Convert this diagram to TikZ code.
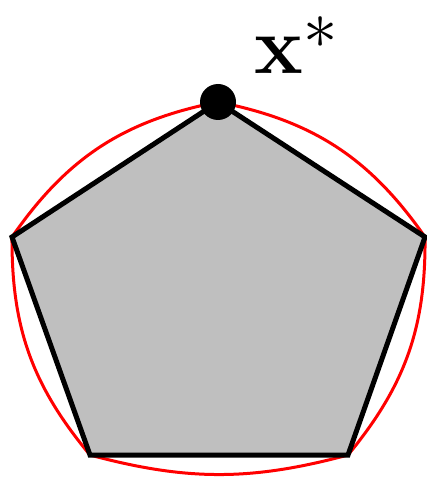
\documentclass[tikz,border=0pt]{standalone}
\usepackage{amsmath,amssymb,bm}
\usepackage{tikz}
\usetikzlibrary{calc}
\definecolor{PolyGray}{RGB}{191,191,191}
\definecolor{CurveRed}{RGB}{255,0,0}

\begin{document}
\begin{tikzpicture}[x=1pt,y=-1pt]
  \useasboundingbox (0,0) rectangle (427,478);
  \coordinate (top) at (218,102);
  \coordinate (lft) at (12,237);
  \coordinate (bl) at (90,455);
  \coordinate (br) at (348,455);
  \coordinate (rgt) at (425,237);
  \draw[line width=3pt,CurveRed]
    (top) to[bend right=22] (lft) to[bend right=20] (bl)
    to[bend right=15] (br) to[bend right=20] (rgt) to[bend right=22] (top);
  \draw[line width=5pt,fill=PolyGray,line join=miter]
    (top) -- (lft) -- (bl) -- (br) -- (rgt) -- cycle;
  \fill (top) circle (18pt);
  \node[anchor=base west,inner sep=0pt,font=\Huge,scale=3.3] (xstar)
    at (254,74) {$\mathbf{x}^{\raisebox{-1.2pt}{$\scriptstyle *$}}$};
\end{tikzpicture}
\end{document}
